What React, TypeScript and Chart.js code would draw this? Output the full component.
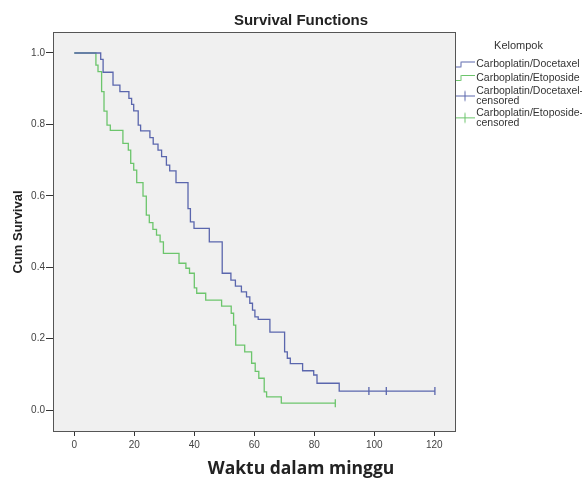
import React, { useEffect, useRef } from 'react';
import { Chart, registerables } from 'chart.js';

Chart.register(...registerables);

const chartTitle = 'Survival Functions';
const xAxisTitle = 'Waktu dalam minggu';
const yAxisTitle = 'Cum Survival';
const legendTitle = 'Kelompok';
const seriesNames = ['Carboplatin/Docetaxel', 'Carboplatin/Etoposide'];
const censoredNames = [
  ['Carboplatin/Docetaxel-', 'censored'],
  ['Carboplatin/Etoposide-', 'censored'],
];

const xTickValues = [0, 20, 40, 60, 80, 100, 120];
const yTickValues = [0, 0.2, 0.4, 0.6, 0.8, 1.0];

// Carboplatin/Docetaxel Kaplan-Meier steps
const docetaxelTimes = [
  0, 8.8, 9.6, 12.9, 15.2, 18.2, 19.1, 19.8, 21.3, 22.1, 25.2, 26.3, 27.9, 29.1, 30.7,
  31.8, 33.9, 37.9, 38.7, 39.9, 45.0, 49.3, 52.2, 53.7, 55.7, 57.4, 58.5, 59.4, 60.2,
  61.3, 65.2, 70.1, 71.0, 72.0, 76.1, 79.8, 80.9, 88.3, 120.2,
];
const docetaxelSurvival = [
  1.0, 0.982, 0.946, 0.91, 0.892, 0.873, 0.856, 0.838, 0.798, 0.782, 0.763, 0.745, 0.728,
  0.71, 0.686, 0.67, 0.637, 0.564, 0.527, 0.509, 0.471, 0.383, 0.364, 0.347, 0.331, 0.317,
  0.299, 0.28, 0.261, 0.254, 0.218, 0.163, 0.145, 0.13, 0.11, 0.098, 0.075, 0.053, 0.053,
];
const docetaxelCensorTimes = [98.2, 104.0, 120.2];
const docetaxelCensorSurvival = [0.053, 0.053, 0.053];

// Carboplatin/Etoposide Kaplan-Meier steps
const etoposideTimes = [
  0, 7.2, 7.9, 9.1, 9.9, 10.9, 12.0, 16.2, 18.0, 18.8, 19.8, 20.8, 22.9, 24.0, 25.0, 26.2,
  27.4, 28.6, 29.7, 34.9, 37.2, 38.4, 40.0, 40.8, 43.8, 49.1, 52.3, 53.1, 53.8, 56.8, 59.1,
  60.3, 61.5, 63.3, 64.1, 69.0, 87.0,
];
const etoposideSurvival = [
  1.0, 0.966, 0.948, 0.892, 0.837, 0.798, 0.783, 0.747, 0.728, 0.691, 0.672, 0.637, 0.599,
  0.546, 0.525, 0.506, 0.49, 0.471, 0.439, 0.411, 0.397, 0.383, 0.342, 0.327, 0.308, 0.291,
  0.271, 0.238, 0.182, 0.163, 0.131, 0.108, 0.089, 0.051, 0.037, 0.019, 0.019,
];
const etoposideCensorTimes = [87.0];
const etoposideCensorSurvival = [0.019];

const BLUE = '#5a66ad';
const GREEN = '#6cc56c';
const FAMILY = "'Liberation Sans', Arial, sans-serif";

const toPoints = (xs: number[], ys: number[]) => xs.map((x, i) => ({ x, y: ys[i] }));

function stepIcon(color: string) {
  const c = document.createElement('canvas');
  c.width = 20;
  c.height = 12;
  const g = c.getContext('2d')!;
  g.strokeStyle = color;
  g.lineWidth = 1;
  g.beginPath();
  g.moveTo(0, 8.5);
  g.lineTo(6.5, 8.5);
  g.lineTo(6.5, 3.5);
  g.lineTo(20, 3.5);
  g.stroke();
  return c;
}

function censorIcon(color: string) {
  const c = document.createElement('canvas');
  c.width = 20;
  c.height = 24;
  const g = c.getContext('2d')!;
  g.strokeStyle = color;
  g.lineWidth = 1;
  g.beginPath();
  g.moveTo(0, 16.5);
  g.lineTo(20, 16.5);
  g.moveTo(10.5, 11.5);
  g.lineTo(10.5, 21.5);
  g.stroke();
  return c;
}

export default function App() {
  const ref = useRef<HTMLCanvasElement>(null);

  useEffect(() => {
    const canvas = ref.current;
    if (!canvas) return;
    const icons = [stepIcon(BLUE), stepIcon(GREEN), censorIcon(BLUE), censorIcon(GREEN)];
    const legendTexts: (string | string[])[] = [seriesNames[0], seriesNames[1], censoredNames[0], censoredNames[1]];

    const framePlugin = {
      id: 'plotFrame',
      beforeDraw(chart: any) {
        const { ctx, chartArea: a } = chart;
        ctx.save();
        ctx.fillStyle = '#f0f0f0';
        ctx.fillRect(a.left, a.top, a.right - a.left, a.bottom - a.top);
        ctx.restore();
      },
      afterDraw(chart: any) {
        const { ctx, chartArea: a } = chart;
        ctx.save();
        ctx.strokeStyle = '#555555';
        ctx.lineWidth = 1;
        ctx.strokeRect(a.left - 0.5, a.top - 0.5, a.right - a.left + 1, a.bottom - a.top + 1);
        ctx.restore();
      },
    };

    const chart = new Chart(canvas, {
      type: 'scatter',
      data: {
        datasets: [
          {
            label: seriesNames[0],
            data: toPoints(docetaxelTimes, docetaxelSurvival),
            showLine: true,
            stepped: true,
            borderColor: BLUE,
            backgroundColor: BLUE,
            borderWidth: 1.3,
            pointRadius: 0,
            pointHoverRadius: 0,
            fill: false,
          },
          {
            label: seriesNames[1],
            data: toPoints(etoposideTimes, etoposideSurvival),
            showLine: true,
            stepped: true,
            borderColor: GREEN,
            backgroundColor: GREEN,
            borderWidth: 1.3,
            pointRadius: 0,
            pointHoverRadius: 0,
            fill: false,
          },
          {
            label: censoredNames[0].join(''),
            data: toPoints(docetaxelCensorTimes, docetaxelCensorSurvival),
            showLine: false,
            pointStyle: 'line',
            rotation: 90,
            pointRadius: 4,
            borderColor: BLUE,
            backgroundColor: BLUE,
            borderWidth: 1.3,
          },
          {
            label: censoredNames[1].join(''),
            data: toPoints(etoposideCensorTimes, etoposideCensorSurvival),
            showLine: false,
            pointStyle: 'line',
            rotation: 90,
            pointRadius: 4,
            borderColor: GREEN,
            backgroundColor: GREEN,
            borderWidth: 1.3,
          },
        ],
      },
      options: {
        responsive: false,
        animation: false,
        devicePixelRatio: 1,
        layout: { padding: { left: 20, right: 0, top: 0, bottom: 0 } },
        plugins: {
          title: {
            display: true,
            text: chartTitle,
            color: '#222222',
            font: { family: FAMILY, size: 15, weight: 'bold', lineHeight: 1.2 },
            padding: { top: 12, bottom: 3 },
          },
          subtitle: {
            display: true,
            position: 'bottom',
            text: xAxisTitle,
            color: '#222222',
            font: { family: "'Open Sans', sans-serif", size: 17.5, weight: 'bold', lineHeight: 1.2 },
            padding: { top: 2, bottom: 0 },
          },
          legend: {
            position: 'right',
            align: 'start',
            maxWidth: 127,
            title: {
              display: true,
              text: legendTitle,
              color: '#333333',
              font: { family: FAMILY, size: 11, lineHeight: 1.2 },
              padding: { top: 40, bottom: 3 },
            },
            labels: {
              usePointStyle: true,
              pointStyleWidth: 13,
              padding: 3,
              color: '#222222',
              font: { family: FAMILY, size: 10.5, lineHeight: 0.9 },
              generateLabels: (c: any) =>
                c.data.datasets.map((ds: any, i: number) => ({
                  text: legendTexts[i],
                  pointStyle: icons[i],
                  fillStyle: 'rgba(0,0,0,0)',
                  strokeStyle: 'rgba(0,0,0,0)',
                  lineWidth: 0,
                  hidden: false,
                  datasetIndex: i,
                })),
            },
          },
          tooltip: { enabled: false },
        },
        scales: {
          x: {
            type: 'linear',
            min: -6.77,
            max: 126.9,
            afterBuildTicks: (s: any) => {
              s.ticks = xTickValues.map((v) => ({ value: v }));
            },
            afterFit: (s: any) => {
              s.height = 26;
            },
            border: { display: false },
            grid: { drawOnChartArea: false, drawTicks: true, tickLength: 5, tickColor: '#333333' },
            ticks: {
              color: '#444444',
              font: { family: FAMILY, size: 10 },
              padding: 3,
              maxRotation: 0,
              autoSkip: false,
              callback: (v: any) => String(v),
            },
          },
          y: {
            type: 'linear',
            min: -0.0588,
            max: 1.056,
            afterBuildTicks: (s: any) => {
              s.ticks = yTickValues.map((v) => ({ value: v }));
            },
            afterFit: (s: any) => {
              s.width = 34;
            },
            border: { display: false },
            grid: { drawOnChartArea: false, drawTicks: true, tickLength: 8, tickColor: '#333333' },
            ticks: {
              color: '#444444',
              font: { family: FAMILY, size: 10 },
              padding: 1,
              autoSkip: false,
              callback: (v: any) => Number(v).toFixed(1),
            },
            title: {
              display: true,
              text: yAxisTitle,
              color: '#222222',
              font: { family: FAMILY, size: 13, weight: 'bold', lineHeight: 1.2 },
              padding: { top: -9.8, bottom: 0 },
            },
          },
        },
      },
      plugins: [framePlugin],
    } as any);

    return () => chart.destroy();
  }, []);

  return (
    <div style={{ position: 'absolute', left: 0, top: 0, width: 582, height: 480, background: '#ffffff' }}>
      <canvas ref={ref} width={582} height={480} style={{ display: 'block', width: 582, height: 480 }} />
    </div>
  );
}
